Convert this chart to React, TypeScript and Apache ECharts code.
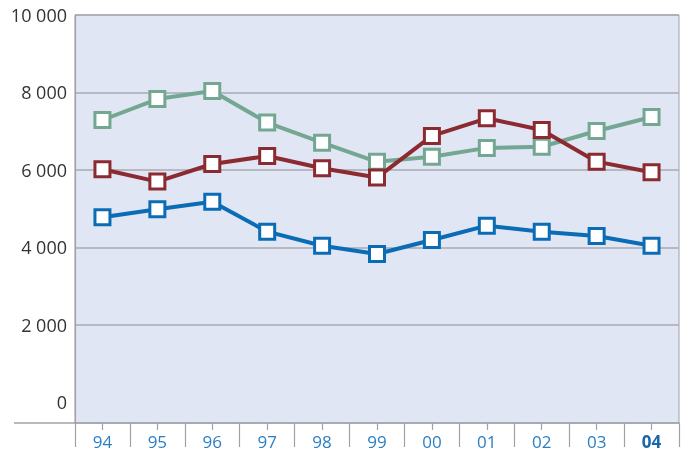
import React, { useEffect, useRef } from "react";
import * as echarts from "echarts";

const years = ["94", "95", "96", "97", "98", "99", "00", "01", "02", "03", "04"];
const greenSeries = [7290, 7830, 8040, 7225, 6705, 6210, 6340, 6570, 6600, 7006, 7368];
const redSeries = [6020, 5700, 6155, 6361, 6045, 5805, 6880, 7334, 7032, 6215, 5942];
const blueSeries = [4779, 4985, 5180, 4408, 4046, 3832, 4194, 4563, 4408, 4297, 4046];
const yTicks = [0, 2000, 4000, 6000, 8000, 10000];
const Y_MIN = -530;

const GREEN = "#74a792";
const RED = "#8c2a31";
const BLUE = "#0b6cb6";

const GL = 75;
const GT = 15;
const GW = 604;
const AXIS_Y = 423;

function mkSeries(name: string, data: number[], color: string) {
  return {
    name,
    type: "line",
    data,
    symbol: "rect",
    symbolSize: 15,
    lineStyle: { color, width: 4 },
    itemStyle: { color: "#ffffff", borderColor: color, borderWidth: 3 },
    z: 3,
  };
}

export default function App() {
  const ref = useRef<HTMLDivElement>(null);
  useEffect(() => {
    if (!ref.current) return;
    const chart = echarts.init(ref.current, null, { renderer: "svg" });
    chart.setOption({
      animation: false,
      textStyle: { fontFamily: "Open Sans" },
      grid: { left: GL, top: GT, width: GW, height: AXIS_Y - GT, containLabel: false, show: true, backgroundColor: "#e1e6f4", borderColor: "#a0a0a8", borderWidth: 1 },
      graphic: [
        {
          type: "line",
          z: 5,
          shape: { x1: 14, y1: AXIS_Y, x2: GL, y2: AXIS_Y },
          style: { stroke: "#a0a0a8", lineWidth: 1.5 },
        },
      ],
      xAxis: [
        {
          type: "category",
          data: years,
          position: "bottom",
          boundaryGap: true,
          axisLine: { show: true, onZero: false, lineStyle: { color: "#a0a0a8", width: 1.5 } },
          axisTick: { show: true, inside: false, interval: 0, length: 24, lineStyle: { color: "#a0a0a8", width: 1.2 } },
          axisLabel: {
            interval: 0,
            margin: 9,
            fontSize: 17,
            fontFamily: "Open Sans",
            formatter: (v: string) => (v === "04" ? "{b|" + v + "}" : "{n|" + v + "}"),
            rich: {
              n: { color: "#2a7fc4", fontSize: 17, lineHeight: 18, fontFamily: "Open Sans" },
              b: { color: "#1566aa", fontSize: 17, lineHeight: 18, fontWeight: "bold", fontFamily: "Open Sans" },
            },
          },
        },
        {
          type: "category",
          data: years,
          position: "bottom",
          boundaryGap: true,
          axisLine: { show: false, onZero: false },
          axisTick: { show: true, inside: false, interval: 0, alignWithLabel: true, length: 7, lineStyle: { color: "#a0a0a8", width: 1.2 } },
          axisLabel: { show: false, interval: 0 },
        },
      ],
      yAxis: {
        type: "value",
        min: Y_MIN,
        max: yTicks[yTicks.length - 1],
        axisLine: { show: true, lineStyle: { color: "#a0a0a8", width: 1.2 } },
        axisTick: { show: false, customValues: yTicks },
        axisLabel: {
          customValues: yTicks,
          margin: 8,
          fontSize: 18,
          color: "#333333",
          fontFamily: "Open Sans",
          formatter: (v: number) => (v >= 1000 ? Math.floor(v / 1000) + " " + String(v % 1000).padStart(3, "0") : String(v)),
        },
        splitLine: {
          show: true,
          showMinLine: false,
          lineStyle: { color: "#a8a8b0", width: 1.5 },
        },
      },
      series: [
        mkSeries("green", greenSeries, GREEN),
        mkSeries("red", redSeries, RED),
        mkSeries("blue", blueSeries, BLUE),
      ],
    });
    return () => chart.dispose();
  }, []);
  return (
    <div
      ref={ref}
      style={{ position: "fixed", left: 0, top: 0, width: 688, height: 451 }}
    />
  );
}
